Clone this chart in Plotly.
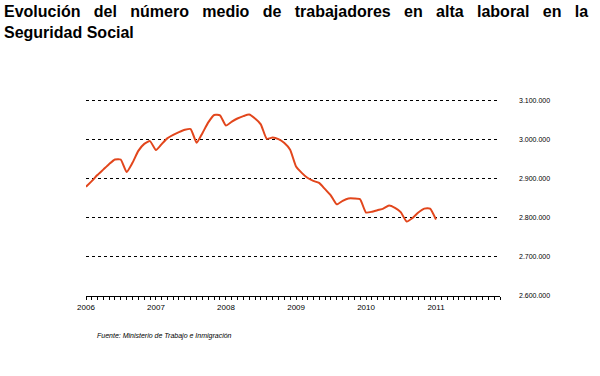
import plotly.graph_objects as go
import pandas as pd

# Monthly average number of workers registered in Social Security (Jan 2006 - Jan 2011)
months = pd.date_range("2006-01-01", "2011-01-01", freq="MS")
workers = [
    2880000, 2895000, 2910000, 2924000, 2938000, 2950000, 2950000, 2918000, 2942000, 2972000, 2990000, 2997000,
    2974000, 2990000, 3004000, 3013000, 3020000, 3026000, 3028000, 2993000, 3018000, 3045000, 3064000, 3063000,
    3037000, 3047000, 3055000, 3061000, 3065000, 3055000, 3040000, 3003000, 3006000, 3002000, 2992000, 2975000,
    2932000, 2915000, 2903000, 2895000, 2890000, 2874000, 2858000, 2835000, 2844000, 2850000, 2850000, 2848000,
    2814000, 2816000, 2820000, 2824000, 2832000, 2826000, 2815000, 2791000, 2800000, 2814000, 2824000, 2824000,
    2796000,
]
y_ticks = [2600000, 2700000, 2800000, 2900000, 3000000, 3100000]

NB = "\u00a0"
gap = " " + NB + NB
title_line1 = gap.join("Evolución del número medio de trabajadores en alta laboral en la".split(" "))
title_text = "<b>" + title_line1 + "<br>Seguridad Social</b>"

L, R, T, B = 86, 100, 99, 80
PW, PH = 600 - L - R, 376 - T - B

fig = go.Figure()
fig.add_trace(go.Scatter(
    x=months, y=workers, mode="lines",
    line=dict(color="#E2461C", width=2, shape="spline", smoothing=0.5),
    hoverinfo="skip", showlegend=False,
))

fig.update_layout(
    width=600, height=376,
    margin=dict(l=L, r=R, t=T, b=B),
    paper_bgcolor="white", plot_bgcolor="white",
    separators=",.",
    font=dict(family="Liberation Sans, Arial, sans-serif", color="#000000"),
    xaxis=dict(
        type="date", range=["2006-01-01", "2011-12-01"],
        showgrid=False, zeroline=False,
        showline=True, linecolor="#000000", linewidth=1,
        ticks="outside", ticklen=3, tickcolor="#000000",
        dtick="M12", tick0="2006-01-01", tickformat="%Y",
        tickfont=dict(size=8, color="#000000"),
        minor=dict(dtick="M1", ticks="outside", ticklen=3, tickcolor="#000000", showgrid=False),
    ),
    yaxis=dict(
        range=[2600000, 3105000], side="right",
        tickvals=y_ticks, tickformat=",d",
        showgrid=True, gridcolor="#000000", gridwidth=1, griddash="3px,3px",
        zeroline=False, showline=False, ticks="",
        ticklabelstandoff=18,
        tickfont=dict(size=7, color="#000000"),
    ),
    annotations=[
        dict(
            text=title_text, xref="paper", yref="paper",
            x=(2 - L) / PW, y=(376 - B - 1) / PH,
            xanchor="left", yanchor="top", align="left", showarrow=False,
            font=dict(size=16, color="#000000"),
        ),
        dict(
            text="<i>Fuente: Ministerio de Trabajo e Inmigración</i>",
            xref="paper", yref="paper", x=(95 - L) / PW, y=(376 - B - 335.5) / PH,
            xanchor="left", yanchor="middle", showarrow=False,
            font=dict(size=7, color="#000000"),
        ),
    ],
)

fig.write_html("out.html", config={"displayModeBar": False},
               post_script="document.body.style.margin='0';")
